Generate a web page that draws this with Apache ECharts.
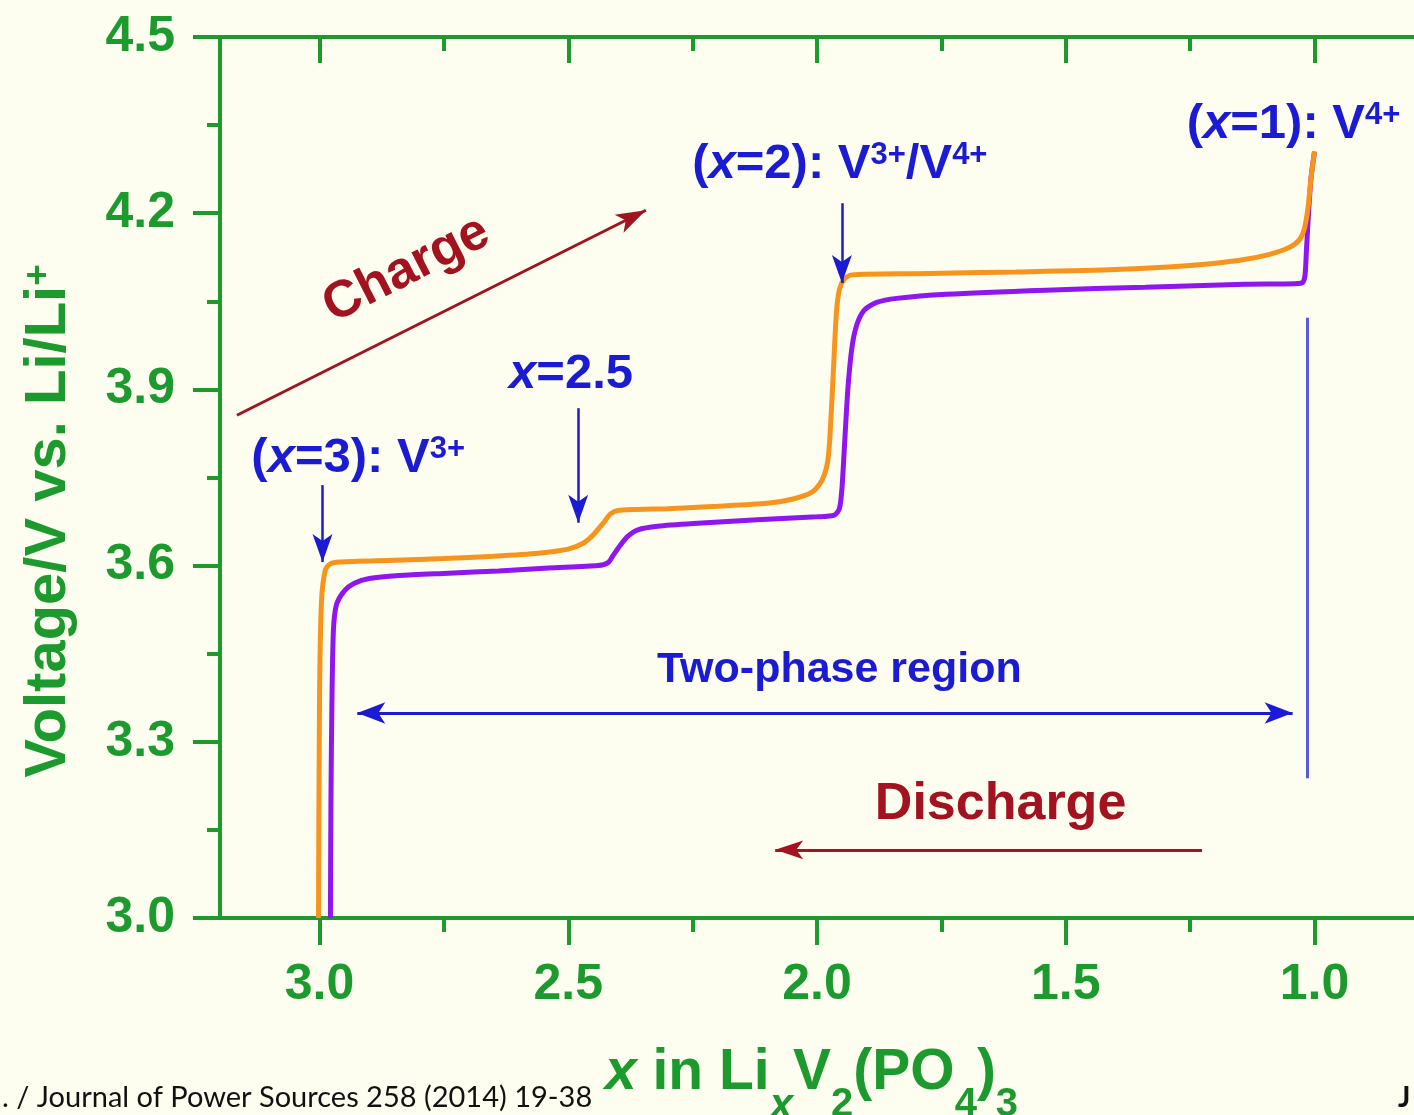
<!DOCTYPE html>
<html>
<head>
<meta charset="utf-8">
<script src="https://cdn.jsdelivr.net/npm/echarts@6/dist/echarts.min.js"></script>
<style>
  html, body { margin: 0; padding: 0; background: #fefef0; }
  #chart { width: 1414px; height: 1115px; }
</style>
</head>
<body>
<div id="chart"></div>
<script>
// Charge curve: Li content x in LixV2(PO4)3 and voltage vs. Li/Li+
const chargeX = [3.002, 3.000, 2.996, 2.988, 2.978, 2.960, 2.850, 2.750, 2.650, 2.560, 2.500, 2.470, 2.450, 2.430, 2.415, 2.400, 2.300, 2.200, 2.100, 2.050, 2.010, 1.990, 1.978, 1.972, 1.966, 1.961, 1.955, 1.945, 1.930, 1.800, 1.600, 1.400, 1.250, 1.150, 1.090, 1.050, 1.030, 1.020, 1.013, 1.007, 1.000];
const chargeV = [3.000, 3.370, 3.540, 3.593, 3.603, 3.606, 3.609, 3.612, 3.616, 3.621, 3.628, 3.638, 3.652, 3.672, 3.688, 3.694, 3.697, 3.701, 3.706, 3.713, 3.725, 3.745, 3.780, 3.850, 3.950, 4.030, 4.070, 4.088, 4.095, 4.097, 4.100, 4.104, 4.111, 4.120, 4.130, 4.142, 4.155, 4.175, 4.210, 4.260, 4.305];

// Discharge curve
const dischargeX = [1.000, 1.007, 1.012, 1.016, 1.019, 1.024, 1.040, 1.140, 1.340, 1.540, 1.740, 1.840, 1.880, 1.905, 1.920, 1.930, 1.938, 1.945, 1.950, 1.955, 1.965, 2.000, 2.120, 2.240, 2.320, 2.360, 2.380, 2.395, 2.410, 2.420, 2.440, 2.540, 2.640, 2.740, 2.840, 2.900, 2.930, 2.950, 2.966, 2.972, 2.975, 2.977, 2.978];
const dischargeV = [4.305, 4.260, 4.200, 4.140, 4.095, 4.082, 4.080, 4.079, 4.074, 4.069, 4.062, 4.055, 4.048, 4.035, 4.010, 3.970, 3.900, 3.800, 3.730, 3.697, 3.686, 3.683, 3.678, 3.672, 3.667, 3.661, 3.650, 3.635, 3.617, 3.605, 3.600, 3.596, 3.591, 3.587, 3.583, 3.578, 3.570, 3.557, 3.533, 3.490, 3.370, 3.200, 3.000];

// Axis ticks
const xMajorTicks = [3.0, 2.5, 2.0, 1.5, 1.0];
const xMinorTicks = [2.75, 2.25, 1.75, 1.25];
const yMajorTicks = [3.0, 3.3, 3.6, 3.9, 4.2, 4.5];
const yMinorTicks = [3.15, 3.45, 3.75, 4.05, 4.35];

const GREEN = '#1d9a2d';
const BLUE = '#1b1bd4';
const RED = '#a3121f';
const FONT = '"Liberation Sans", Arial, sans-serif';

const zip = (xs, ys) => xs.map((x, i) => [x, ys[i]]);

// Annotation arrows in data coordinates ("to" is the arrow tip)
const arrows = [
  { from: [2.994, 3.737], to: [2.994, 3.606], color: BLUE, width: 2.5, head: [15, 28], both: false },
  { from: [2.480, 3.868], to: [2.480, 3.673], color: BLUE, width: 2.5, head: [15, 28], both: false },
  { from: [1.950, 4.217], to: [1.950, 4.081], color: BLUE, width: 2.5, head: [15, 28], both: false },
  { from: [2.924, 3.349], to: [1.044, 3.349], color: BLUE, width: 3, head: [16, 28], both: true },
  { from: [3.166, 3.856], to: [2.344, 4.205], color: RED, width: 3, head: [15, 30], both: false },
  { from: [1.226, 3.116], to: [2.084, 3.116], color: RED, width: 3, head: [14, 28], both: false }
];
const guideLine = { from: [1.014, 4.022], to: [1.014, 3.238] };

// Annotation texts
const notes = [
  { at: [3.136, 3.781], text: '{t|(}{i|x}{t|=3): V}{s|3+}', align: 'left' },
  { at: [2.618, 3.925], text: '{i|x}{t|=2.5}', align: 'left' },
  { at: [2.250, 4.282], text: '{t|(}{i|x}{t|=2): V}{s|3+}{t|/V}{s|4+}', align: 'left' },
  { at: [1.256, 4.350], text: '{t|(}{i|x}{t|=1): V}{s|4+}', align: 'left' },
  { at: [1.954, 3.422], text: '{r|Two-phase region}', align: 'center' },
  { at: [1.630, 3.192], text: '{d|Discharge}', align: 'center' },
  { at: [2.824, 4.103], text: '{d|Charge}', align: 'center', rotate: 27 }
];

const noteRich = {
  t: { fontFamily: FONT, fontSize: 49, fontWeight: 'bold', color: BLUE, lineHeight: 49, verticalAlign: 'top' },
  i: { fontFamily: FONT, fontSize: 49, fontWeight: 'bold', fontStyle: 'italic', color: BLUE, lineHeight: 49, verticalAlign: 'top' },
  s: { fontFamily: FONT, fontSize: 31, fontWeight: 'bold', color: BLUE, lineHeight: 20, verticalAlign: 'top' },
  r: { fontFamily: FONT, fontSize: 43, fontWeight: 'bold', color: BLUE, lineHeight: 43 },
  d: { fontFamily: FONT, fontSize: 52, fontWeight: 'bold', color: RED, lineHeight: 52 }
};

const chart = echarts.init(document.getElementById('chart'), null, { renderer: 'canvas' });

function xAxisDef(pos, ticks, len, inside, showLine, showLabels) {
  return {
    type: 'value', position: pos, inverse: true, min: 0.8, max: 3.2,
    splitLine: { show: false },
    axisLine: { show: showLine, onZero: false, lineStyle: { color: GREEN, width: 4 } },
    axisTick: { show: true, inside: inside, length: len, customValues: ticks, lineStyle: { color: GREEN, width: 4 } },
    axisLabel: {
      show: showLabels, customValues: xMajorTicks, margin: 42,
      color: GREEN, fontFamily: FONT, fontSize: 50, fontWeight: 'bold',
      formatter: v => v.toFixed(1)
    }
  };
}

function yAxisDef(ticks, len, showLine, showLabels) {
  return {
    type: 'value', position: 'left', min: 3.0, max: 4.5,
    splitLine: { show: false },
    axisLine: { show: showLine, onZero: false, lineStyle: { color: GREEN, width: 4 } },
    axisTick: { show: true, inside: false, length: len, customValues: ticks, lineStyle: { color: GREEN, width: 4 } },
    axisLabel: {
      show: showLabels, customValues: yMajorTicks, margin: 45,
      color: GREEN, fontFamily: FONT, fontSize: 50, fontWeight: 'bold',
      formatter: v => v.toFixed(1)
    }
  };
}

const option = {
  backgroundColor: '#fefef0',
  animation: false,
  grid: { left: 220, top: 37, width: 1200, height: 881, containLabel: false },
  xAxis: [
    xAxisDef('bottom', xMajorTicks, 27, false, true, true),
    xAxisDef('bottom', xMinorTicks, 14, false, false, false),
    xAxisDef('top', xMajorTicks, 26, true, true, false),
    xAxisDef('top', xMinorTicks, 14, true, false, false)
  ],
  yAxis: [
    yAxisDef(yMajorTicks, 27, true, true),
    yAxisDef(yMinorTicks, 13, false, false)
  ],
  series: [
    {
      name: 'Discharge', type: 'line', xAxisIndex: 0, yAxisIndex: 0,
      data: zip(dischargeX, dischargeV), showSymbol: false, smooth: 0.25,
      lineStyle: { color: '#8f16f0', width: 5 }, silent: true, z: 3
    },
    {
      name: 'Charge', type: 'line', xAxisIndex: 0, yAxisIndex: 0,
      data: zip(chargeX, chargeV), showSymbol: false, smooth: 0.25,
      lineStyle: { color: '#f7941e', width: 5 }, silent: true, z: 4
    },
    {
      name: 'annotations', type: 'line', xAxisIndex: 0, yAxisIndex: 0, data: [], silent: true, z: 5,
      markLine: {
        silent: true, animation: false,
        label: { show: false },
        emphasis: { disabled: true },
        data: arrows.map(a => [
          { coord: a.from, symbol: a.both ? 'arrow' : 'none', symbolSize: a.head,
            lineStyle: { color: a.color, width: a.width, type: 'solid' } },
          { coord: a.to, symbol: 'arrow', symbolSize: a.head }
        ]).concat([[
          { coord: guideLine.from, symbol: 'none', lineStyle: { color: '#5a5ad8', width: 3, type: 'solid' } },
          { coord: guideLine.to, symbol: 'none' }
        ]])
      },
      markPoint: {
        silent: true, animation: false,
        symbol: 'circle', symbolSize: 1,
        itemStyle: { color: 'rgba(0,0,0,0)' },
        data: notes.map(n => ({
          coord: n.at,
          label: {
            show: true, position: [0, 0], align: n.align, verticalAlign: 'middle',
            rotate: n.rotate || 0, formatter: n.text, rich: noteRich
          }
        }))
      }
    }
  ],
  graphic: [
    {
      type: 'text', x: 49, y: 521, rotation: Math.PI / 2, silent: true,
      style: {
        text: '{m|Voltage/V vs. Li/Li}{s|+}', align: 'center', verticalAlign: 'middle',
        rich: {
          m: { fontFamily: FONT, fontSize: 58, fontWeight: 'bold', fill: GREEN, lineHeight: 58, verticalAlign: 'top' },
          s: { fontFamily: FONT, fontSize: 37, fontWeight: 'bold', fill: GREEN, lineHeight: 24, verticalAlign: 'top' }
        }
      }
    },
    {
      type: 'text', x: 605, y: 1045, silent: true,
      style: {
        text: '{i|x}{m| in Li}{si|x}{m|V}{s|2}{m|(PO}{s|4}{m|)}{s|3}', align: 'left', verticalAlign: 'top',
        rich: {
          m: { fontFamily: FONT, fontSize: 57, fontWeight: 'bold', fill: GREEN, lineHeight: 57, verticalAlign: 'top' },
          i: { fontFamily: FONT, fontSize: 57, fontWeight: 'bold', fontStyle: 'italic', fill: GREEN, lineHeight: 57, verticalAlign: 'top' },
          s: { fontFamily: FONT, fontSize: 40, fontWeight: 'bold', fill: GREEN, lineHeight: 40, padding: [40, 0, 0, 0], verticalAlign: 'top' },
          si: { fontFamily: FONT, fontSize: 42, fontWeight: 'bold', fontStyle: 'italic', fill: GREEN, lineHeight: 40, padding: [40, 0, 0, 0], verticalAlign: 'top' }
        }
      }
    },
    {
      type: 'text', x: 2, y: 1098, silent: true,
      style: { text: '. / Journal of Power Sources 258 (2014) 19-38', font: '29px Lato, "Noto Sans", sans-serif', fill: '#111', verticalAlign: 'middle' }
    },
    {
      type: 'text', x: 1398, y: 1098, silent: true,
      style: { text: 'J', font: 'bold 29px Lato, "Noto Sans", sans-serif', fill: '#111', verticalAlign: 'middle' }
    }
  ]
};

chart.setOption(option);
</script>
</body>
</html>
